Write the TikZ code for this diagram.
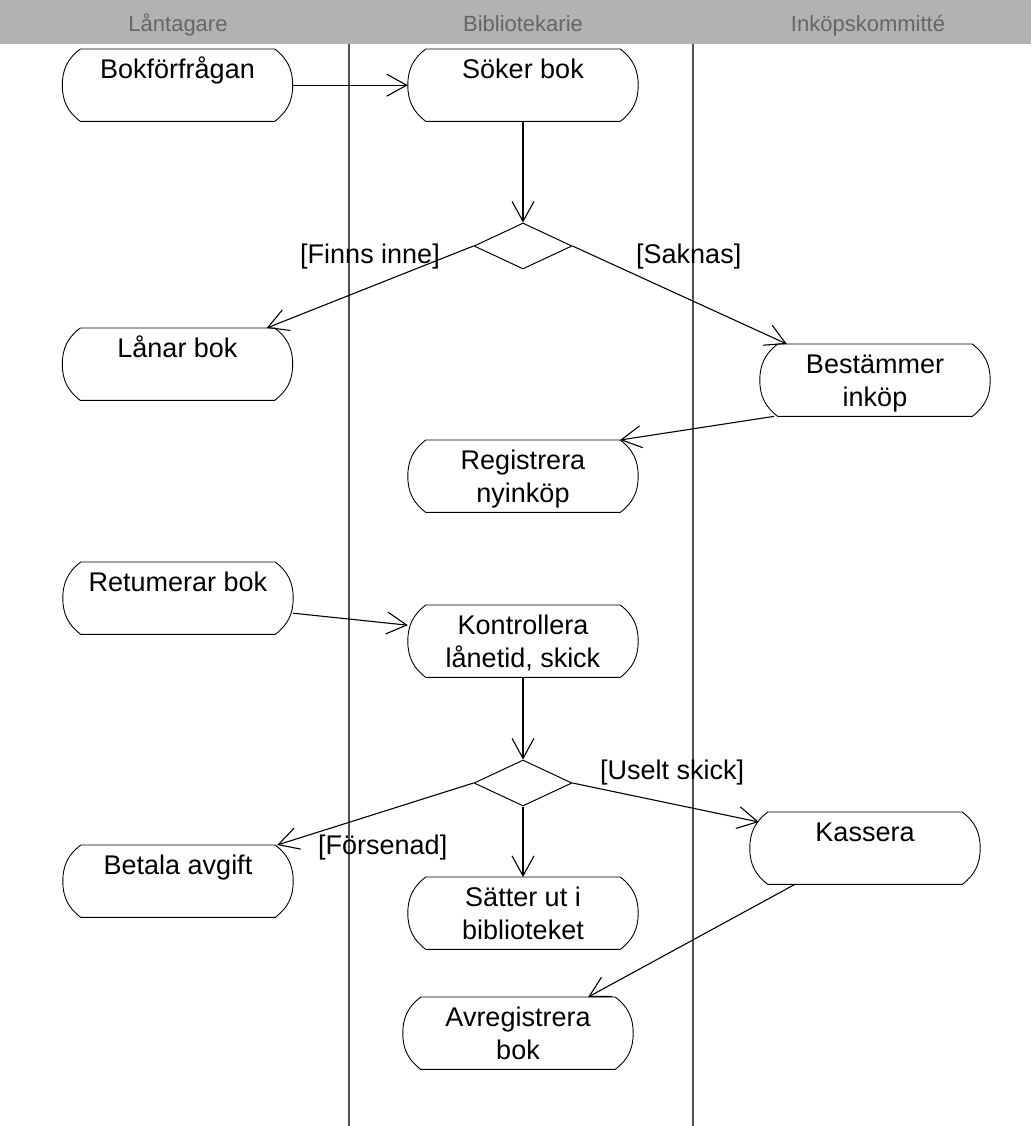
\documentclass[tikz,border=0pt]{standalone}
\usepackage{fontspec}
\setmainfont{Liberation Sans}
\usetikzlibrary{arrows.meta,shapes.geometric,calc}

% activity text: fixed 230x72 box, text hung from the top
\newcommand\acttext[1]{\parbox[c][72pt][t]{230pt}{\centering\fontsize{27}{33}\selectfont\rule{0pt}{29pt}#1}}

\definecolor{bandgray}{HTML}{B2B2B2}
\definecolor{headgray}{HTML}{666666}
\definecolor{lanegray}{HTML}{505050}

\tikzset{
  act/.style={inner sep=0pt, anchor=north},
  actline/.style={draw=black, line width=0.9pt},
  decision/.style={diamond, draw=black, line width=1pt, inner sep=0pt,
                   minimum width=98pt, minimum height=46pt},
  flow/.style={draw=black, line width=1.1pt,
               -{Straight Barb[length=20pt,width=22pt]}},
  guard/.style={inner sep=0pt, font=\fontsize{27}{30}\selectfont},
  head/.style={inner sep=0pt, anchor=base, text=headgray, font=\fontsize{22}{26}\selectfont},
  lane/.style={draw=lanegray, line width=1.3pt}
}

\begin{document}
\begin{tikzpicture}[x=1pt,y=1pt]
\useasboundingbox (0,0) rectangle (1031,-1126);

% swimlane header band and dividers
\fill[bandgray] (0,0) rectangle (1031,-44);
\node[head] (h1) at (178,-32) {Låntagare};
\node[head] (h2) at (523,-32) {Bibliotekarie};
\node[head] (h3) at (868,-32) {Inköpskommitté};
\draw[lane] (349,-44) -- (349,-1126);
\draw[lane] (693,-44) -- (693,-1126);

% activities
\node[act] (bok)  at (177.5,-49)  {\acttext{Bokförfrågan}};
\node[act] (sok)  at (523,-49)    {\acttext{Söker bok}};
\node[act] (lan)  at (177.5,-328) {\acttext{Lånar bok}};
\node[act] (best) at (875,-344)   {\acttext{Bestämmer\\inköp}};
\node[act] (reg)  at (523,-440)   {\acttext{Registrera\\nyinköp}};
\node[act] (ret)  at (178,-562)   {\acttext{Retumerar bok}};
\node[act] (kon)  at (523,-605)   {\acttext{Kontrollera\\lånetid, skick}};
\node[act] (bet)  at (178,-845)   {\acttext{Betala avgift}};
\node[act] (sat)  at (523,-877)   {\acttext{Sätter ut i\\biblioteket}};
\node[act] (kas)  at (865,-812)   {\acttext{Kassera}};
\node[act] (avr)  at (518,-997)   {\acttext{Avregistrera\\bok}};

% activity outlines: flat top and bottom, arched sides
\foreach \n in {bok,sok,lan,best,reg,ret,kon,bet,sat,kas,avr}{
  \draw[actline] ([xshift=18pt]\n.north west) -- ([xshift=-18pt]\n.north east)
    to[out=-37,in=90] (\n.east) to[out=-90,in=37] ([xshift=-18pt]\n.south east)
    -- ([xshift=18pt]\n.south west)
    to[out=143,in=-90] (\n.west) to[out=90,in=217] cycle;
}

% decisions
\node[decision] (d1) at (523,-246) {};
\node[decision] (d2) at (523,-783) {};

% control flow
\draw[flow] (bok.east) -- (sok.west);
\draw[flow] (sok.south) -- (d1.north);
\draw[flow] (d1.west) -- ([xshift=-26pt]lan.north east);
\draw[flow] (d1.east) -- ([xshift=27pt]best.north west);
\draw[flow] ([xshift=14pt]best.south west) -- ([xshift=-18pt]reg.north east);
\draw[flow] ([yshift=-15pt]ret.east) -- ([yshift=16pt]kon.west);
\draw[flow] (kon.south) -- (d2.north);
\draw[flow] (d2.west) -- ([xshift=-16pt]bet.north east);
\draw[flow] (d2.south) -- (sat.north);
\draw[flow] (d2.east) -- ([xshift=9pt,yshift=-10pt]kas.north west);
\draw[flow] ([xshift=45pt]kas.south west) -- ([xshift=-45pt]avr.north east);

% guards
\node[guard, anchor=east] (g1) at (440,-257) {[Finns inne]};
\node[guard, anchor=west] (g2) at (636,-257) {[Saknas]};
\node[guard, anchor=west] (g3) at (318,-848) {[Försenad]};
\node[guard, anchor=west] (g4) at (600,-773) {[Uselt skick]};
\end{tikzpicture}
\end{document}
